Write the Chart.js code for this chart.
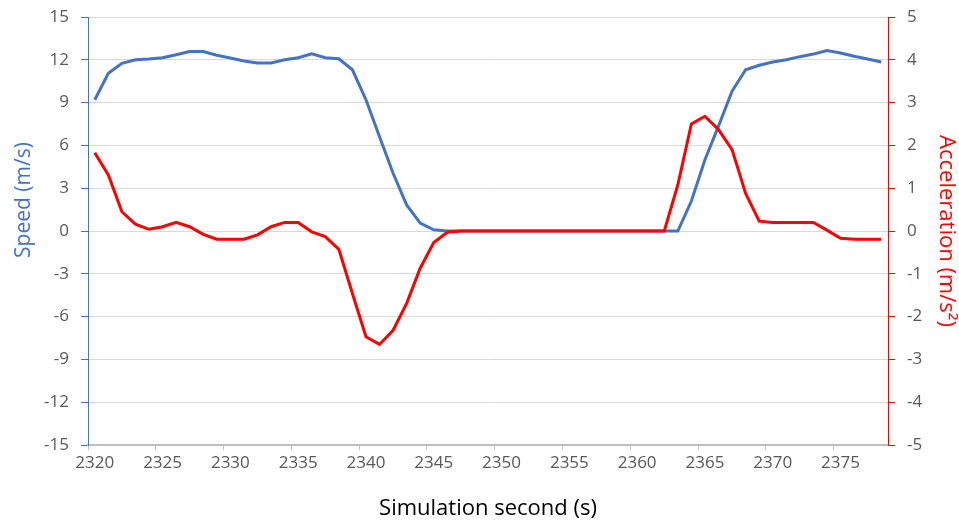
<!DOCTYPE html>
<html>
<head>
<meta charset="utf-8">
<script src="https://cdn.jsdelivr.net/npm/chart.js@4"></script>
<style>
  html, body { margin: 0; padding: 0; background: #fff; }
  #wrap { width: 959px; height: 520px; }
</style>
</head>
<body>
<div id="wrap"><canvas id="c" width="959" height="520"></canvas></div>
<script>
// Simulation seconds (one category per second)
const seconds = [
  2320, 2321, 2322, 2323, 2324, 2325, 2326, 2327, 2328, 2329,
  2330, 2331, 2332, 2333, 2334, 2335, 2336, 2337, 2338, 2339,
  2340, 2341, 2342, 2343, 2344, 2345, 2346, 2347, 2348, 2349,
  2350, 2351, 2352, 2353, 2354, 2355, 2356, 2357, 2358, 2359,
  2360, 2361, 2362, 2363, 2364, 2365, 2366, 2367, 2368, 2369,
  2370, 2371, 2372, 2373, 2374, 2375, 2376, 2377, 2378
];

// Vehicle speed, m/s
const speed = [
  9.2, 11.05, 11.75, 12.0, 12.05, 12.15, 12.35, 12.58, 12.58, 12.32,
  12.13, 11.92, 11.78, 11.78, 12.0, 12.15, 12.42, 12.15, 12.07, 11.3,
  9.2, 6.6, 4.05, 1.83, 0.55, 0.08, 0, 0, 0, 0,
  0, 0, 0, 0, 0, 0, 0, 0, 0, 0,
  0, 0, 0, 0, 2.1, 5.0, 7.35, 9.8, 11.3, 11.62,
  11.85, 12.0, 12.22, 12.4, 12.65, 12.48, 12.25, 12.05, 11.85
];

// Vehicle acceleration, m/s²
const acceleration = [
  1.83, 1.31, 0.45, 0.16, 0.04, 0.1, 0.2, 0.1, -0.08, -0.19,
  -0.19, -0.19, -0.09, 0.1, 0.2, 0.2, -0.02, -0.13, -0.43, -1.46,
  -2.47, -2.65, -2.32, -1.69, -0.87, -0.27, -0.03, 0, 0, 0,
  0, 0, 0, 0, 0, 0, 0, 0, 0, 0,
  0, 0, 0, 1.08, 2.5, 2.68, 2.37, 1.9, 0.88, 0.23,
  0.2, 0.2, 0.2, 0.2, 0.02, -0.17, -0.19, -0.19, -0.19
];

// Axis ranges and labelling
const speedTicks = { min: -15, max: 15, step: 3 };
const accelTicks = { min: -5, max: 5, step: 1 };
const labelEvery = 5;

const FONT = "'Open Sans', 'Noto Sans', sans-serif";
const BLUE = '#4472C4';
const RED = '#FF0000';
const TICK_GREY = '#595959';

// Left axis title is drawn slightly above the axis midpoint
const speedTitlePlugin = {
  id: 'speedTitle',
  afterDraw(chart) {
    const ctx = chart.ctx;
    ctx.save();
    ctx.translate(24, 200);
    ctx.rotate(-Math.PI / 2);
    ctx.font = '21px ' + FONT;
    ctx.fillStyle = BLUE;
    ctx.textAlign = 'center';
    ctx.textBaseline = 'middle';
    ctx.fillText('Speed (m/s)', 0, 0);
    ctx.restore();
  }
};

// Fixed axis widths; the chart area edges come from the layout padding
function fixWidth(width) {
  return function (scale) {
    scale.width = width;
    scale.paddingTop = 0;
    scale.paddingBottom = 0;
  };
}

new Chart(document.getElementById('c'), {
  type: 'line',
  data: {
    labels: seconds,
    datasets: [
      {
        label: 'Speed',
        data: speed,
        yAxisID: 'ySpeed',
        borderColor: BLUE,
        borderWidth: 3,
        pointRadius: 0,
        tension: 0,
        order: 1
      },
      {
        label: 'Acceleration',
        data: acceleration,
        yAxisID: 'yAccel',
        borderColor: RED,
        borderWidth: 3,
        pointRadius: 0,
        tension: 0,
        order: 0
      }
    ]
  },
  options: {
    responsive: false,
    animation: false,
    events: [],
    layout: { padding: { top: 17, left: 0, right: 0, bottom: 0 } },
    plugins: {
      legend: { display: false },
      tooltip: { enabled: false },
      title: { display: false }
    },
    scales: {
      x: {
        type: 'category',
        offset: true,
        afterFit(scale) { scale.height = 75; },
        grid: {
          offset: true,
          drawOnChartArea: false,
          drawTicks: true,
          tickLength: 5,
          tickWidth: 1,
          tickColor: (ctx) => (ctx.index % labelEvery === 0 && ctx.index < seconds.length) ? '#BFBFBF' : 'rgba(0,0,0,0)'
        },
        border: { display: true, color: '#BFBFBF', width: 2 },
        ticks: {
          autoSkip: false,
          maxRotation: 0,
          minRotation: 0,
          padding: 3,
          color: TICK_GREY,
          font: { family: FONT, size: 17 },
          callback(value, index) {
            return index % labelEvery === 0 ? String(this.getLabelForValue(value)) : '';
          }
        },
        title: {
          display: true,
          text: 'Simulation second (s)',
          color: '#000000',
          font: { family: FONT, size: 22 },
          padding: { top: 0, bottom: -2 }
        }
      },
      ySpeed: {
        type: 'linear',
        position: 'left',
        min: speedTicks.min,
        max: speedTicks.max,
        afterFit: fixWidth(88),
        grid: {
          color: '#D9D9D9',
          lineWidth: 1,
          tickLength: 7,
          tickColor: BLUE
        },
        border: { display: true, color: BLUE, width: 1 },
        ticks: {
          stepSize: speedTicks.step,
          padding: 12,
          color: TICK_GREY,
          font: { family: FONT, size: 17 }
        }
      },
      yAccel: {
        type: 'linear',
        position: 'right',
        min: accelTicks.min,
        max: accelTicks.max,
        afterFit: fixWidth(71),
        grid: {
          drawOnChartArea: false,
          tickLength: 7,
          tickColor: RED
        },
        border: { display: true, color: RED, width: 1 },
        ticks: {
          stepSize: accelTicks.step,
          padding: 12,
          color: TICK_GREY,
          font: { family: FONT, size: 17 }
        },
        title: {
          display: true,
          text: 'Acceleration (m/s²)',
          color: RED,
          font: { family: FONT, size: 22 },
          padding: { top: 0, bottom: 0 }
        }
      }
    }
  },
  plugins: [speedTitlePlugin]
});
</script>
</body>
</html>
